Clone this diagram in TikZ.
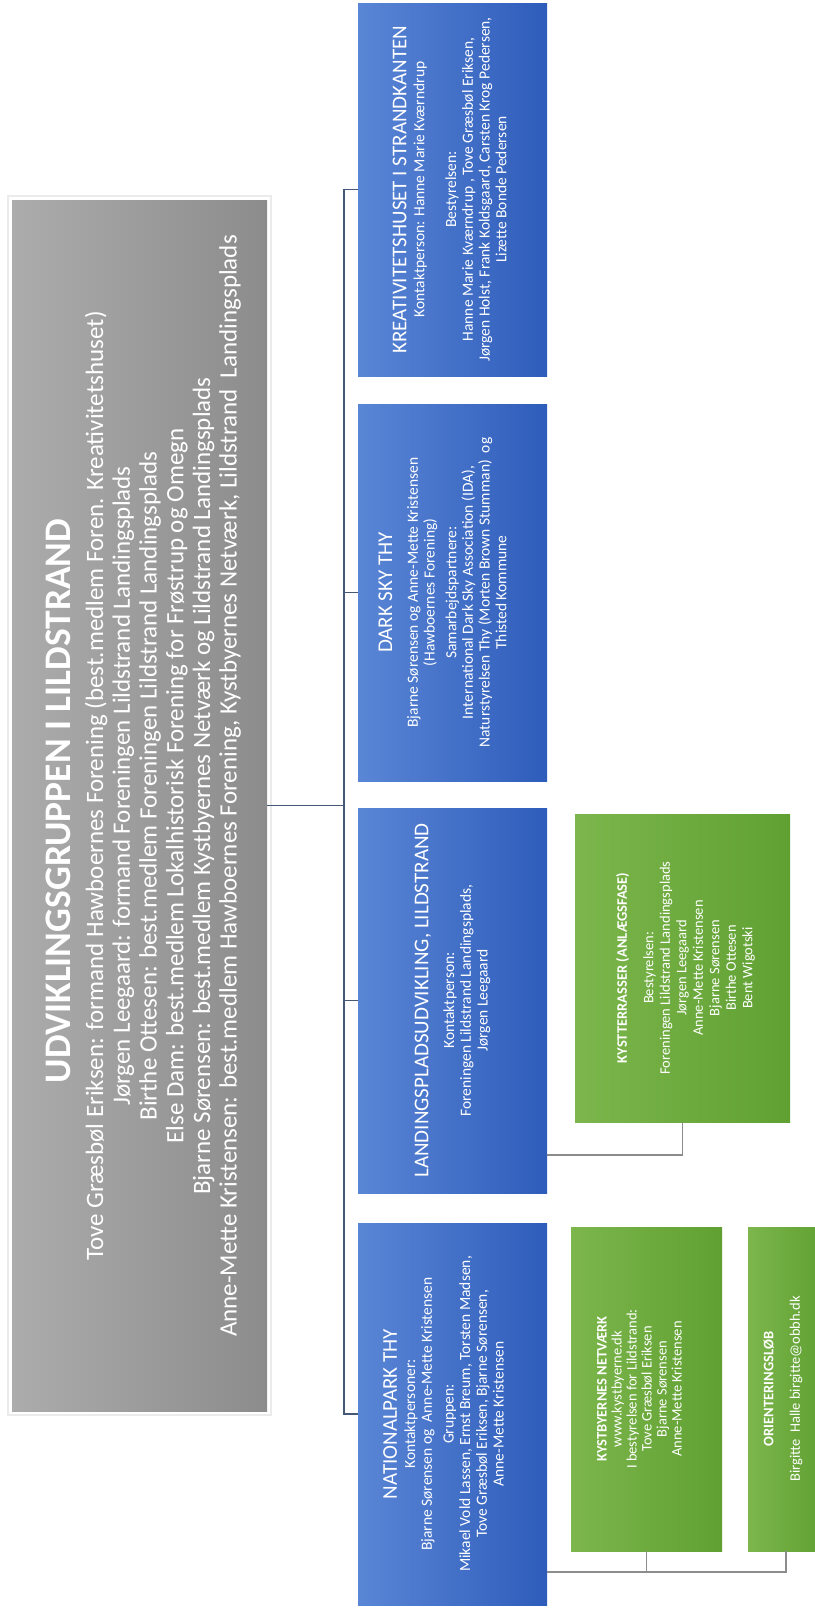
\documentclass[tikz,border=0pt]{standalone}
\usepackage{fontspec}
\setmainfont{Carlito}
\usetikzlibrary{calc}
\definecolor{grayL}{RGB}{172,172,172}
\definecolor{grayR}{RGB}{140,140,140}
\definecolor{blueL}{RGB}{90,134,214}
\definecolor{blueR}{RGB}{46,92,186}
\definecolor{greenL}{RGB}{124,182,76}
\definecolor{greenR}{RGB}{96,160,50}
\definecolor{treeC}{RGB}{70,88,120}
\definecolor{subC}{RGB}{140,140,140}
\tikzset{
  card/.style={inner sep=0pt, outer sep=0pt, draw=none},
  graybox/.style={card, left color=grayL, right color=grayR},
  bluebox/.style={card, left color=blueL, right color=blueR},
  greenbox/.style={card, left color=greenL, right color=greenR},
  rtext/.style={rotate=90, text=white, align=center, inner sep=0pt},
  btext/.style={rtext, font=\fontsize{15.5}{16.7}\selectfont},
  gtext/.style={rtext, font=\fontsize{14.5}{16.5}\selectfont},
  tree/.style={draw=treeC, line width=1.1pt},
  sub/.style={draw=subC, line width=1.1pt},
}
\newcommand{\btitle}[1]{{\fontsize{21}{16.7}\selectfont #1}}
\begin{document}
\begin{tikzpicture}[x=1pt,y=-1pt]
\useasboundingbox (0,0) rectangle (814,1609);
\fill[white] (0,0) rectangle (814,1609);
% gray top box
\draw[black!8, line width=1.5pt] (8,196) rectangle (271,1415);
\node[graybox, minimum width=255pt, minimum height=1211pt] (gray) at (139.5,805.5) {};
\node[rtext, font=\fontsize{37.5}{40}\selectfont\bfseries] (grayTitle) at (58,801) {UDVIKLINGSGRUPPEN I LILDSTRAND};
\node[rtext, font=\fontsize{25}{26.7}\selectfont] (grayBody) at (163,786) {Tove Græsbøl Eriksen: formand Hawboernes Forening (best.medlem Foren. Kreativitetshuset)\\
Jørgen Leegaard: formand Foreningen Lildstrand Landingsplads\\
Birthe Ottesen: best.medlem Foreningen Lildstrand Landingsplads\\
Else Dam: best.medlem Lokalhistorisk Forening for Frøstrup og Omegn\\
Bjarne Sørensen: best.medlem Kystbyernes Netværk og Lildstrand Landingsplads\\
Anne-Mette Kristensen: best.medlem Hawboernes Forening, Kystbyernes Netværk, Lildstrand\ \ Landingsplads};
% blue boxes
\node[bluebox, minimum width=189pt, minimum height=373pt] (kreativ) at (452.5,189.5) {};
\node[bluebox, minimum width=189pt, minimum height=377pt] (darksky) at (452.5,592.5) {};
\node[bluebox, minimum width=189pt, minimum height=385pt] (landing) at (452.5,1000.5) {};
\node[bluebox, minimum width=189pt, minimum height=382pt] (national) at (452.5,1414) {};
\node[btext] (kreativT) at ($(kreativ.center)+(-3,0)$) {\btitle{KREATIVITETSHUSET I STRANDKANTEN}\\[1.5pt]
Kontaktperson: Hanne Marie Kværndrup\\[15pt]
Bestyrelsen:\\
Hanne Marie Kværndrup , Tove Græsbøl Eriksen,\\
Jørgen Holst, Frank Koldsgaard, Carsten Krog Pedersen,\\
Lizette Bonde Pedersen};
\node[btext] (darkskyT) at ($(darksky.center)+(-10,0)$) {\btitle{DARK SKY THY}\\[9pt]
Bjarne Sørensen og Anne-Mette Kristensen\\
(Hawboernes Forening)\\[5pt]
Samarbejdspartnere:\\
International Dark Sky Association (IDA),\\
Naturstyrelsen Thy (Morten Brown Stumman)\ \ og\\
Thisted Kommune};
\node[btext] (landingT) at (landing.center) {\btitle{LANDINGSPLADSUDVIKLING, LILDSTRAND}\\[9pt]
Kontaktperson:\\
Foreningen Lildstrand Landingsplads,\\
Jørgen Leegaard};
\node[btext] (nationalT) at ($(national.center)+(-9,0)$) {\btitle{NATIONALPARK THY}\\[1.5pt]
Kontaktpersoner:\\
Bjarne Sørensen og\ \ Anne-Mette Kristensen\\[5pt]
Gruppen:\\
Mikael Vold Lassen, Ernst Breum, Torsten Madsen,\\
Tove Græsbøl Eriksen, Bjarne Sørensen,\\
Anne-Mette Kristensen};
% green boxes
\node[greenbox, minimum width=215pt, minimum height=308pt] (kystt) at (682.5,968) {};
\node[greenbox, minimum width=151pt, minimum height=324pt] (kystb) at (646.5,1389) {};
\node[greenbox, minimum width=76pt, minimum height=324pt] (orient) at (786,1389) {};
\node[gtext] (kysttT) at ($(kystt.center)+(3,0)$) {\textbf{KYSTTERRASSER (ANLÆGSFASE)}\\[10pt]
Bestyrelsen:\\
Foreningen Lildstrand Landingsplads\\
Jørgen Leegaard\\
Anne-Mette Kristensen\\
Bjarne Sørensen\\
Birthe Ottesen\\
Bent Wigotski};
\node[gtext, font=\fontsize{14.5}{15}\selectfont] (kystbT) at ($(kystb.center)+(-7,0)$) {\textbf{KYSTBYERNES NETVÆRK}\\
www.kystbyerne.dk\\
I bestyrelsen for Lildstrand:\\
Tove Græsbøl Eriksen\\
Bjarne Sørensen\\
Anne-Mette Kristensen};
\node[gtext] (orientT) at ($(orient.center)+(-3,0)$) {\textbf{ORIENTERINGSLØB}\\[10pt]
Birgitte\ \ Halle birgitte@obbh.dk};
% connectors
\coordinate (bus) at (344,0);
\draw[tree] (gray.east) -- (gray.east -| bus);
\draw[tree] (kreativ.west) -- (kreativ.west -| bus) -- (national.west -| bus) -- (national.west);
\draw[tree] (darksky.west) -- (darksky.west -| bus);
\draw[tree] (landing.west) -- (landing.west -| bus);
\coordinate (lk) at ($(landing.south east)+(0,-38)$);
\draw[sub] (lk) -| (kystt.south);
\coordinate (nb) at ($(national.south east)+(0,-33)$);
\draw[sub] (nb) -| (orient.south);
\draw[sub] (kystb.south) -- (kystb.south |- nb);
\end{tikzpicture}
\end{document}
